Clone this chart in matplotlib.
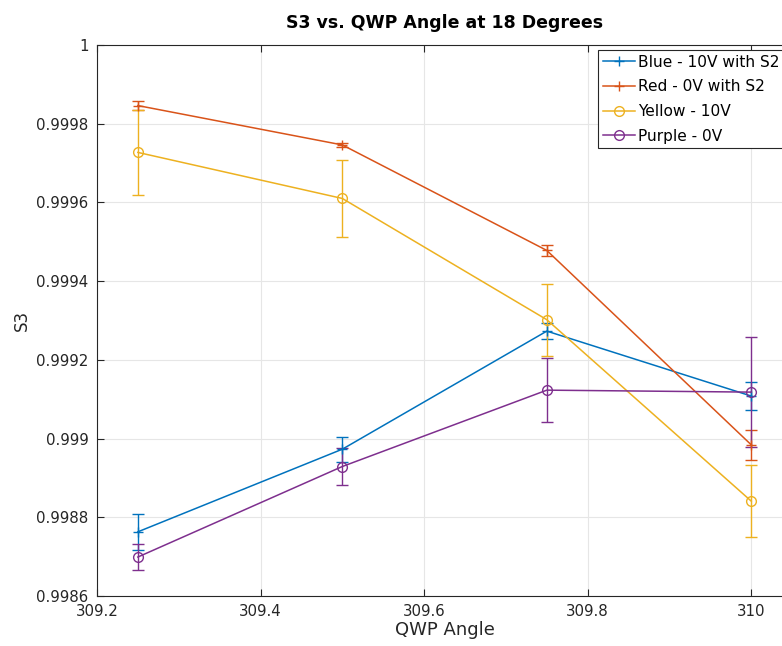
import matplotlib.pyplot as plt
from matplotlib.lines import Line2D

# QWP angle settings
angle = [309.25, 309.5, 309.75, 310.0]

# S3 means and error bar half-widths for each run
blue = [0.998763, 0.998973, 0.999273, 0.999108]
blue_err = [0.000046, 0.000032, 0.000020, 0.000035]
red = [0.999846, 0.999746, 0.999478, 0.998984]
red_err = [0.000012, 0.000006, 0.000013, 0.000038]
yellow = [0.999727, 0.999610, 0.999302, 0.998841]
yellow_err = [0.000109, 0.000097, 0.000091, 0.000091]
purple = [0.998699, 0.998929, 0.999123, 0.999118]
purple_err = [0.000034, 0.000047, 0.000082, 0.000140]

labels = ['Blue - 10V with S2', 'Red - 0V with S2', 'Yellow - 10V', 'Purple - 0V']
colors = ['#0072BD', '#D95319', '#EDB120', '#7E2F8E']
markers = ['+', '+', 'o', 'o']

fig = plt.figure(figsize=(7.82, 6.46), dpi=100)
ax = fig.add_axes([0.124, 0.0774, 0.889, 0.853])

series = [(blue, blue_err), (red, red_err), (yellow, yellow_err), (purple, purple_err)]
handles = []
for (vals, errs), lab, col, mk in zip(series, labels, colors, markers):
    ax.errorbar(angle, vals, yerr=errs, color=col, marker=mk, markersize=7,
                markerfacecolor='none', markeredgewidth=1.0, linewidth=1.1,
                elinewidth=1.0, capsize=4.5)
    handles.append(Line2D([], [], color=col, marker=mk, markersize=7,
                          markerfacecolor='none', linewidth=1.1, label=lab))

ax.set_xlim(309.2, 310.05)
ax.set_ylim(0.9986, 1.0)
ax.set_xticks([309.2, 309.4, 309.6, 309.8, 310])
ax.set_xticklabels(['309.2', '309.4', '309.6', '309.8', '310'])
ax.set_yticks([0.9986, 0.9988, 0.999, 0.9992, 0.9994, 0.9996, 0.9998, 1.0])
ax.set_yticklabels(['0.9986', '0.9988', '0.999', '0.9992', '0.9994', '0.9996', '0.9998', '1'])
ax.tick_params(direction='in', top=True, right=True, labelsize=10.8, colors='#262626',
               length=5, pad=6)
ax.grid(True, color='#e6e6e6', linewidth=0.8)
ax.set_axisbelow(True)
for s in ax.spines.values():
    s.set_color('#262626')
    s.set_linewidth(0.8)

ax.set_xlabel('QWP Angle', fontsize=13, color='#262626', labelpad=1)
ax.set_ylabel('S3', fontsize=12, color='#262626', labelpad=4)
ax.set_title('S3 vs. QWP Angle at 18 Degrees', fontsize=12.5, fontweight='bold', pad=12)

leg = ax.legend(handles=handles, loc='upper left', bbox_to_anchor=(0.721, 0.991),
                fontsize=11.1, fancybox=False, framealpha=1, edgecolor='#262626',
                borderpad=0.3, labelspacing=0.63, handlelength=2.1, handletextpad=0.2,
                borderaxespad=0)
leg.get_frame().set_linewidth(0.8)

fig.savefig('out.png', dpi=100)
